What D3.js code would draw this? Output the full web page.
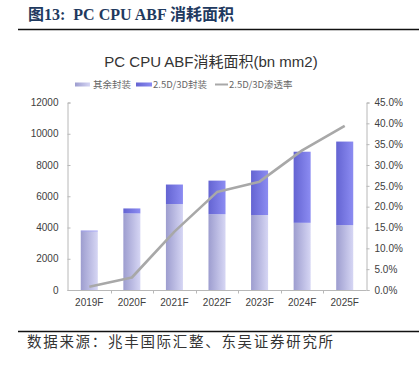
<!DOCTYPE html>
<html><head><meta charset="utf-8">
<script src="https://cdn.jsdelivr.net/npm/d3@7"></script>
<style>
html,body{margin:0;padding:0;background:#fff;}
svg{display:block;}
</style></head>
<body>
<svg id="c" width="419" height="367"></svg>
<script>
const categories = ["2019F","2020F","2021F","2022F","2023F","2024F","2025F"];
const otherPkg = [3750, 4900, 5500, 4850, 4800, 4300, 4150];
const advPkg = [50, 320, 1250, 2150, 2850, 4550, 5350];
const penetration = [0.008, 0.03, 0.14, 0.235, 0.26, 0.335, 0.394];
const leftTicks = [0,2000,4000,6000,8000,10000,12000];
const rightTicks = [0,0.05,0.10,0.15,0.20,0.25,0.30,0.35,0.40,0.45];
const seriesNames = ["其余封装","2.5D/3D封装","2.5D/3D渗透率"];

const svg = d3.select("#c");
const defs = svg.append("defs");
function grad(id, c1, c2){
  const g = defs.append("linearGradient").attr("id", id).attr("x1","0").attr("x2","1").attr("y1","0").attr("y2","0");
  g.append("stop").attr("offset","0").attr("stop-color",c1);
  g.append("stop").attr("offset","1").attr("stop-color",c2);
}
grad("gOther", "#9d9dcf", "#d6d6f4");
grad("gAdv", "#6464d2", "#8c8cf2");

// header
svg.append("text").attr("x",28).attr("y",20)
  .attr("font-family","'Liberation Serif','Noto Sans CJK SC',serif").attr("font-weight","bold")
  .attr("font-size",16).attr("fill","#1f3a60").attr("xml:space","preserve").text("图13:  PC CPU ABF 消耗面积");
svg.append("line").attr("x1",18).attr("x2",419).attr("y1",29.5).attr("y2",29.5).attr("stroke","#111").attr("stroke-width",1.6);

// chart title
svg.append("text").attr("x",211).attr("y",67).attr("text-anchor","middle")
  .attr("font-family","'Liberation Sans','Noto Sans CJK SC',sans-serif").attr("font-size",15)
  .attr("fill","#333").text("PC CPU ABF消耗面积(bn mm2)");

const x = d3.scaleBand().domain(categories).range([68,366]).paddingInner(0.6).paddingOuter(0.3);
const yL = d3.scaleLinear().domain([0,12000]).range([290,102.5]);
const yR = d3.scaleLinear().domain([0,0.45]).range([290,102.5]);

// bars
const g = svg.append("g");
categories.forEach((c,i)=>{
  g.append("rect").attr("x",x(c)).attr("width",x.bandwidth())
    .attr("y",yL(otherPkg[i])).attr("height",yL(0)-yL(otherPkg[i])).attr("fill","url(#gOther)");
  g.append("rect").attr("x",x(c)).attr("width",x.bandwidth())
    .attr("y",yL(otherPkg[i]+advPkg[i])).attr("height",yL(otherPkg[i])-yL(otherPkg[i]+advPkg[i])).attr("fill","url(#gAdv)");
});

// line
const line = d3.line().x((d,i)=>x(categories[i])+x.bandwidth()/2).y(d=>yR(d));
svg.append("path").datum(penetration).attr("d",line).attr("fill","none")
  .attr("stroke","#a8a8a8").attr("stroke-width",2.6).attr("stroke-linejoin","round");

// axes
const axisColor = "#b8b8b8";
const font = "'Liberation Sans',Arial,sans-serif";
const aL = svg.append("g").attr("transform","translate(67.5,0)")
  .call(d3.axisLeft(yL).tickValues(leftTicks).tickSize(-3).tickPadding(9).tickFormat(d3.format("d")));
const aR = svg.append("g").attr("transform","translate(366.5,0)")
  .call(d3.axisRight(yR).tickValues(rightTicks).tickSize(3).tickPadding(5).tickFormat(d3.format(".1%")));
const aB = svg.append("g").attr("transform","translate(0,290.5)")
  .call(d3.axisBottom(x).tickSize(0).tickPadding(8));
const bounds = categories.slice(1).map(c => x(c) - x.step()*x.paddingInner()/2);
svg.append("g").selectAll("line").data(bounds).join("line")
  .attr("x1",d=>Math.round(d)+0.5).attr("x2",d=>Math.round(d)+0.5).attr("y1",290.5).attr("y2",293.5)
  .attr("stroke",axisColor);

[aL,aR,aB].forEach(a=>{
  a.select(".domain").attr("stroke",axisColor);
  a.selectAll(".tick line").attr("stroke",axisColor);
  a.selectAll("text").attr("font-family",font).attr("font-size",10).attr("fill","#404040");
});
aB.select(".domain").attr("d","M67.5,0H366.5");

// legend
const lg = svg.append("g").attr("font-family","'Noto Sans CJK SC',sans-serif").attr("font-size",9.5).attr("fill","#666");
lg.append("rect").attr("x",75).attr("y",82.5).attr("width",15).attr("height",4).attr("fill","url(#gOther)");
lg.append("text").attr("x",93).attr("y",88).text(seriesNames[0]);
lg.append("rect").attr("x",136).attr("y",82.5).attr("width",16).attr("height",4).attr("fill","url(#gAdv)");
lg.append("text").attr("x",153).attr("y",88).text(seriesNames[1]);
lg.append("line").attr("x1",215).attr("x2",228).attr("y1",84.5).attr("y2",84.5).attr("stroke","#a8a8a8").attr("stroke-width",2);
lg.append("text").attr("x",229).attr("y",88).text(seriesNames[2]);

// footer
svg.append("line").attr("x1",18).attr("x2",419).attr("y1",331.5).attr("y2",331.5).attr("stroke","#111").attr("stroke-width",1.6);
svg.append("text").attr("x",27).attr("y",347)
  .attr("font-family","'Noto Sans CJK SC',serif").attr("font-size",14.5).attr("letter-spacing",1.7)
  .attr("fill","#333").text("数据来源：兆丰国际汇整、东吴证券研究所");
</script>
</body></html>
